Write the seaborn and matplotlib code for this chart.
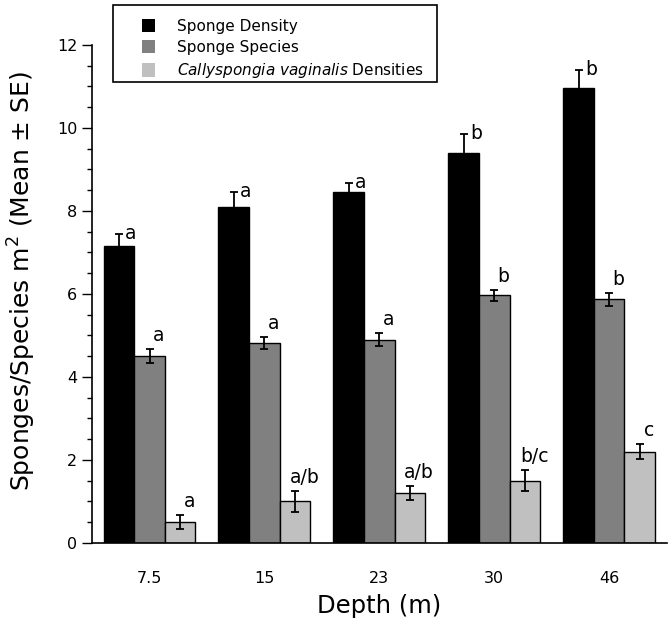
import matplotlib
matplotlib.use("Agg")
import matplotlib.pyplot as plt
from matplotlib.ticker import MultipleLocator
import seaborn as sns
import pandas as pd
import numpy as np

depths = ["7.5", "15", "23", "30", "46"]
series = ["Sponge Density", "Sponge Species",
          r"$\mathit{Callyspongia\ vaginalis}$ Densities"]
density = [7.15, 8.1, 8.45, 9.4, 10.97]
density_se = [0.3, 0.35, 0.22, 0.45, 0.42]
species = [4.5, 4.82, 4.9, 5.97, 5.87]
species_se = [0.17, 0.15, 0.15, 0.13, 0.15]
cally = [0.5, 1.0, 1.2, 1.5, 2.2]
cally_se = [0.17, 0.25, 0.17, 0.25, 0.18]
density_letters = ["a", "a", "a", "b", "b"]
species_letters = ["a", "a", "a", "b", "b"]
cally_letters = ["a", "a/b", "a/b", "b/c", "c"]

values = [density, species, cally]
ses = [density_se, species_se, cally_se]
letters = [density_letters, species_letters, cally_letters]
colors = ["#000000", "#808080", "#c0c0c0"]

rows = []
for s, vals in zip(series, values):
    for d, v in zip(depths, vals):
        rows.append({"Depth": d, "Series": s, "Value": v})
df = pd.DataFrame(rows)

sns.set_theme(style="white")
plt.rcParams["font.family"] = ["DejaVu Sans"]
plt.rcParams["mathtext.fontset"] = "dejavusans"
plt.rcParams["text.color"] = "black"
plt.rcParams["axes.labelcolor"] = "black"
plt.rcParams["xtick.color"] = "black"
plt.rcParams["ytick.color"] = "black"

fig = plt.figure(figsize=(6.72, 6.24), dpi=100)
ax = fig.add_axes([0.137, 0.13, 0.855, 0.798])

sns.barplot(data=df, x="Depth", y="Value", hue="Series", order=depths,
            hue_order=series, palette=colors, errorbar=None, width=0.8,
            edgecolor="black", linewidth=1.0, saturation=1, ax=ax)

bar_containers = list(ax.containers)
for k, cont in enumerate(bar_containers):
    xs = [p.get_x() + p.get_width() / 2 for p in cont.patches]
    tops = [p.get_height() for p in cont.patches]
    ax.errorbar(xs, tops, yerr=ses[k], fmt="none", ecolor="black",
                elinewidth=1.3, capsize=3, capthick=1.3, zorder=5)
    for x, t, e, lab in zip(xs, tops, ses[k], letters[k]):
        if k == 0:
            ax.text(x + 0.055, t + e - 0.12, lab, ha="left", va="baseline",
                    fontsize=13.5, color="black")
        else:
            ax.text(x + 0.08, t + e + 0.19, lab, ha="center", va="baseline",
                    fontsize=13.5, color="black")

ax.set_xlim(-0.5, 4.5)
ax.set_ylim(0, 12)
ax.yaxis.set_major_locator(MultipleLocator(2))
ax.yaxis.set_minor_locator(MultipleLocator(0.5))
ax.tick_params(axis="y", which="major", direction="out", length=7, width=1,
               color="black", labelsize=11.5, pad=3.5, left=True)
ax.tick_params(axis="y", which="minor", direction="out", length=3.6, width=1,
               color="black", left=True)
ax.tick_params(axis="x", length=0, labelsize=11.5, pad=20)
for side in ["top", "right"]:
    ax.spines[side].set_visible(False)
for side in ["left", "bottom"]:
    ax.spines[side].set_color("black")
    ax.spines[side].set_linewidth(1.2)

ax.set_xlabel("Depth (m)", fontsize=17.5, labelpad=6)
ax.set_ylabel(r"Sponges/Species m$^2$ (Mean ± SE)", fontsize=18)
ax.yaxis.set_label_coords(-0.094, 0.526)

ax.get_legend().remove()
handles = [plt.Rectangle((0, 0), 1, 1, facecolor=c, edgecolor="none") for c in colors]
leg = fig.legend(handles, series, loc="upper left",
                 bbox_to_anchor=(142 / 672, 1 - 19 / 624), frameon=False,
                 fontsize=11, handlelength=0.85, handleheight=0.95,
                 handletextpad=1.45, labelspacing=0.4, borderpad=0,
                 borderaxespad=0)
box = plt.Rectangle((113 / 672, 1 - 82 / 624), 324 / 672, 77 / 624,
                    transform=fig.transFigure, facecolor="white",
                    edgecolor="black", linewidth=1.2, zorder=0)
fig.patches.append(box)

fig.savefig("out.png", dpi=100)
